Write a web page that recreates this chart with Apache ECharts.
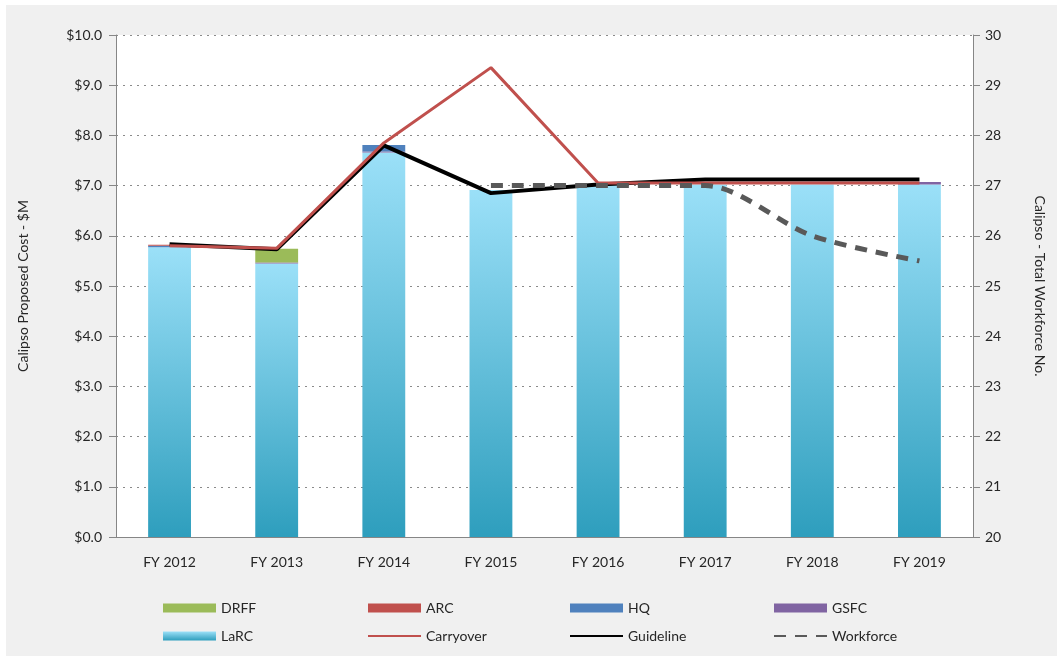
<!DOCTYPE html>
<html>
<head>
<meta charset="utf-8">
<script src="https://cdn.jsdelivr.net/npm/echarts@6/dist/echarts.min.js"></script>
<style>
  html, body { margin: 0; padding: 0; background: #fff; }
  #chart { position: absolute; left: 6px; top: 5px; width: 1051px; height: 651px; background: #f0f0f0; }
</style>
</head>
<body>
<div id="chart"></div>
<script>
  // 数据
  var years = ['FY 2012', 'FY 2013', 'FY 2014', 'FY 2015', 'FY 2016', 'FY 2017', 'FY 2018', 'FY 2019'];
  var larc = [5.77, 5.45, 7.66, 6.91, 7.02, 7.02, 7.02, 7.02];
  var gsfc = [0, 0.02, 0.02, 0, 0, 0, 0, 0.05];
  var hq = [0.03, 0, 0.13, 0, 0, 0, 0, 0];
  var arc = [0.02, 0, 0, 0, 0, 0, 0, 0];
  var drff = [0, 0.27, 0, 0, 0, 0, 0, 0];
  var carryover = [5.80, 5.75, 7.85, 9.35, 7.05, 7.05, 7.05, 7.05];
  var guideline = [5.83, 5.73, 7.80, 6.85, 7.02, 7.12, 7.12, 7.12];
  var workforce = [null, null, null, 27.0, 27.0, 27.0, 26.0, 25.5];

  var font = 'Lato, "Open Sans", sans-serif';
  var txt = '#262626';

  var myChart = echarts.init(document.getElementById('chart'));

  function barSeries(name, data, color) {
    return {
      name: name, type: 'bar', stack: 'cost', data: data,
      barWidth: '40%',
      itemStyle: { color: color },
      emphasis: { disabled: true }
    };
  }

  var larcGrad = new echarts.graphic.LinearGradient(0, 0, 0, 1, [
    { offset: 0, color: '#9be0f8' },
    { offset: 1, color: '#2e9ebd' }
  ]);

  function legendCol(left, names) {
    return {
      orient: 'vertical', left: left, top: 591,
      itemWidth: 53, itemHeight: 9, itemGap: 14,
      data: names,
      textStyle: { fontFamily: font, fontSize: 14, color: txt },
      selectedMode: false
    };
  }

  // 线图例不要圆点
  function lineItem(name) {
    return { name: name, itemStyle: { opacity: 0 } };
  }

  myChart.setOption({
    animation: false,
    grid: {
      left: 110, right: 84, top: 30, bottom: 119,
      show: true, backgroundColor: '#fff', borderWidth: 0
    },
    legend: [
      legendCol(152, [{ name: 'DRFF', icon: 'rect' }, { name: 'LaRC', icon: 'rect' }]),
      legendCol(356, [{ name: 'ARC', icon: 'rect' }, lineItem('Carryover')]),
      legendCol(558, [{ name: 'HQ', icon: 'rect' }, lineItem('Guideline')]),
      legendCol(762, [{ name: 'GSFC', icon: 'rect' }, lineItem('Workforce')])
    ],
    xAxis: {
      type: 'category',
      data: years,
      axisLine: { lineStyle: { color: '#868686', width: 1 } },
      axisTick: { show: false },
      axisLabel: { fontFamily: font, fontSize: 14, color: txt, margin: 18 }
    },
    yAxis: [{
      type: 'value', min: 0, max: 10, interval: 1,
      name: 'Calipso Proposed Cost - $M',
      nameLocation: 'middle', nameGap: 86, nameRotate: 90,
      nameTextStyle: { fontFamily: font, fontSize: 14, color: txt },
      axisLine: { show: true, lineStyle: { color: '#868686' } },
      axisTick: { show: true, length: 7, lineStyle: { color: '#868686' } },
      axisLabel: {
        fontFamily: font, fontSize: 14, color: txt, margin: 14,
        formatter: function (v) { return '$' + v.toFixed(1); }
      },
      splitLine: { show: true, lineStyle: { color: '#8a8a8a', type: [2, 5], width: 1 } }
    }, {
      type: 'value', min: 20, max: 30, interval: 1, position: 'right',
      name: 'Calipso - Total Workforce No.',
      nameLocation: 'middle', nameGap: 60, nameRotate: -90,
      nameTextStyle: { fontFamily: font, fontSize: 14, color: txt },
      axisLine: { show: true, lineStyle: { color: '#868686' } },
      axisTick: { show: true, length: 7, lineStyle: { color: '#868686' } },
      axisLabel: { fontFamily: font, fontSize: 14, color: txt, margin: 12 },
      splitLine: { show: false }
    }],
    series: [
      barSeries('LaRC', larc, larcGrad),
      barSeries('GSFC', gsfc, '#8064a2'),
      barSeries('HQ', hq, '#4f81bd'),
      barSeries('ARC', arc, '#c0504d'),
      barSeries('DRFF', drff, '#9bbb59'),
      {
        name: 'Guideline', type: 'line', data: guideline,
        symbol: 'none', z: 3,
        lineStyle: { color: '#000', width: 4 },
        itemStyle: { color: '#000' }
      },
      {
        name: 'Carryover', type: 'line', data: carryover,
        symbol: 'none', z: 4,
        lineStyle: { color: '#c0504d', width: 3 },
        itemStyle: { color: '#c0504d' }
      },
      {
        name: 'Workforce', type: 'line', yAxisIndex: 1, data: workforce,
        symbol: 'none', smooth: 0.3, z: 5,
        lineStyle: { color: '#595959', width: 5, type: [12, 9] },
        itemStyle: { color: '#595959' }
      }
    ]
  });
</script>
</body>
</html>
